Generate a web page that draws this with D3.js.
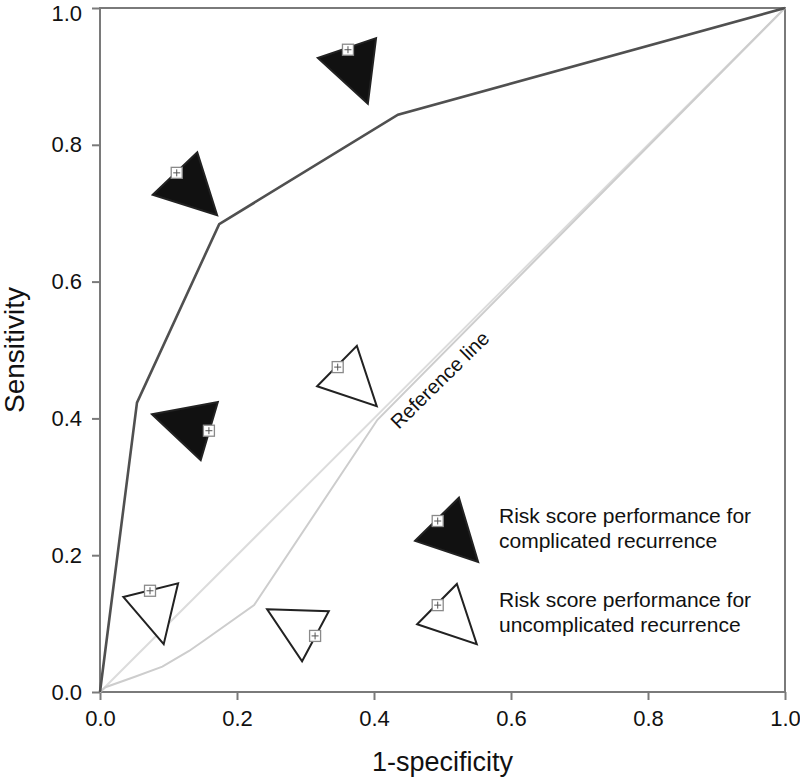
<!DOCTYPE html>
<html><head><meta charset="utf-8">
<script src="https://cdn.jsdelivr.net/npm/d3@7"></script>
<style>body{margin:0;background:#fff;} svg{display:block;font-family:"Liberation Sans",Arial,Helvetica,sans-serif;}</style>
</head><body>
<svg id="chart" width="800" height="778"></svg>
<script>
// Data
const ticks = [0, 0.2, 0.4, 0.6, 0.8, 1.0];
const tickLabels = ["0.0", "0.2", "0.4", "0.6", "0.8", "1.0"];
const referenceLine = [[0, 0], [1, 1]];
const complicatedROC = [[0, 0], [0.054, 0.423], [0.174, 0.684], [0.435, 0.844], [1, 1]];
const uncomplicatedROC = [[0, 0], [0.008, 0.007], [0.05, 0.022], [0.091, 0.037], [0.13, 0.06], [0.153, 0.076], [0.225, 0.127], [0.405, 0.398], [1, 1]];
// annotation triangles: vertices + box marker position, filled flag
const triangles = [
  {pts: [[0.318, 0.927], [0.403, 0.956], [0.391, 0.860]], box: [0.362, 0.939], filled: true},
  {pts: [[0.077, 0.727], [0.142, 0.789], [0.171, 0.697]], box: [0.112, 0.759], filled: true},
  {pts: [[0.076, 0.406], [0.172, 0.424], [0.147, 0.339]], box: [0.159, 0.382], filled: true},
  {pts: [[0.317, 0.447], [0.375, 0.506], [0.404, 0.418]], box: [0.347, 0.475], filled: false},
  {pts: [[0.034, 0.139], [0.114, 0.159], [0.093, 0.070]], box: [0.073, 0.148], filled: false},
  {pts: [[0.244, 0.121], [0.334, 0.118], [0.295, 0.045]], box: [0.314, 0.082], filled: false},
  {pts: [[0.460, 0.221], [0.524, 0.284], [0.552, 0.190]], box: [0.493, 0.250], filled: true},
  {pts: [[0.463, 0.099], [0.521, 0.158], [0.550, 0.070]], box: [0.493, 0.127], filled: false}
];
const legendLines = [
  ["Risk score performance for", "complicated recurrence"],
  ["Risk score performance for", "uncomplicated recurrence"]
];
const legendAnchors = [0.2455, 0.1225];
const xTitle = "1-specificity", yTitle = "Sensitivity", refLabel = "Reference line";

const svg = d3.select("#chart");
const x = d3.scaleLinear().domain([0, 1]).range([100, 785]);
const y = d3.scaleLinear().domain([0, 1]).range([692, 8]);

// frame
svg.append("rect").attr("x", x(0)).attr("y", y(1)).attr("width", x(1) - x(0)).attr("height", y(0) - y(1))
  .attr("fill", "#fff").attr("stroke", "#7a7a7a").attr("stroke-width", 2);

// axes
const xAxis = svg.append("g").attr("transform", `translate(0,${y(0)})`)
  .call(d3.axisBottom(x).tickValues(ticks).tickFormat((d, i) => tickLabels[i]).tickSize(8).tickPadding(10));
const yAxis = svg.append("g").attr("transform", `translate(${x(0)},0)`)
  .call(d3.axisLeft(y).tickValues(ticks).tickFormat((d, i) => tickLabels[i]).tickSize(8).tickPadding(10));
[xAxis, yAxis].forEach(g => {
  g.select(".domain").remove();
  g.selectAll("line").attr("stroke", "#7a7a7a").attr("stroke-width", 2);
  g.selectAll("text").attr("font-size", 22).attr("fill", "#111").attr("font-family", "Liberation Sans, Arial, sans-serif");
});
// keep the top label inside the picture
yAxis.selectAll(".tick text").filter(d => d === 1).attr("dy", "0.55em");

const line = d3.line().x(d => x(d[0])).y(d => y(d[1]));

svg.append("path").datum(referenceLine).attr("d", line).attr("fill", "none").attr("stroke", "#dcdcdc").attr("stroke-width", 2);
svg.append("path").datum(uncomplicatedROC).attr("d", line).attr("fill", "none").attr("stroke", "#cdcdcd").attr("stroke-width", 2);
svg.append("path").datum(complicatedROC).attr("d", line).attr("fill", "none").attr("stroke", "#505050").attr("stroke-width", 2.6);

// reference label
svg.append("text").attr("transform", `translate(${x(0.436)},${y(0.383)}) rotate(-44.5)`)
  .attr("font-size", 20).attr("fill", "#111").text(refLabel);

// triangles
triangles.forEach(t => {
  svg.append("polygon").attr("points", t.pts.map(p => [x(p[0]), y(p[1])].join(",")).join(" "))
    .attr("fill", t.filled ? "#111" : "#fff").attr("stroke", "#222").attr("stroke-width", 2).attr("stroke-linejoin", "miter");
  const bx = x(t.box[0]), by = y(t.box[1]);
  const g = svg.append("g").attr("transform", `translate(${bx},${by})`);
  g.append("rect").attr("x", -5.5).attr("y", -5.5).attr("width", 11).attr("height", 11)
    .attr("fill", "#fff").attr("stroke", "#8a8a8a").attr("stroke-width", 1.3);
  g.append("path").attr("d", "M-3.5,0H3.5M0,-3.5V3.5").attr("stroke", "#555").attr("stroke-width", 1);
});

// legend text
legendLines.forEach((ls, i) => {
  const cy = y(legendAnchors[i]);
  ls.forEach((s, j) => {
    svg.append("text").attr("x", 499).attr("y", cy - 1 + j * 25).attr("font-size", 21).attr("fill", "#111").text(s);
  });
});

// axis titles
svg.append("text").attr("x", (x(0) + x(1)) / 2).attr("y", 771).attr("text-anchor", "middle")
  .attr("font-size", 27).attr("fill", "#111").text(xTitle);
svg.append("text").attr("transform", `translate(24,${(y(0) + y(1)) / 2}) rotate(-90)`).attr("text-anchor", "middle")
  .attr("font-size", 28).attr("fill", "#111").text(yTitle);
</script>
</body></html>
